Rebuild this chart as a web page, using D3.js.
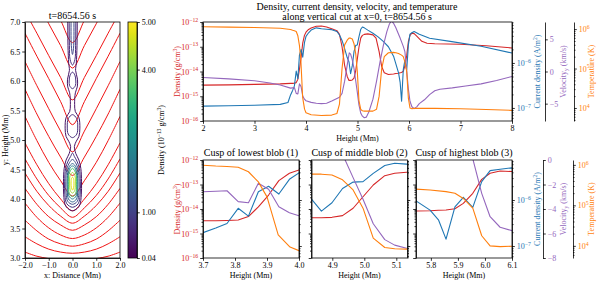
<!DOCTYPE html>
<meta charset="utf-8">
<style>
body { margin: 0; background: #fff; }
svg { font-family: "Liberation Serif", "Times New Roman", serif; }
</style>
<svg width="598" height="282"></svg>
<script src="https://d3js.org/d3.v7.min.js"></script>
<script>

// ---- data ----

// field lines (left panel): heights in Mm at |x| = fieldX, mirrored about x=0
var fieldX = [0, 0.5, 1, 1.5, 2];
var fieldLines = [
  [2.95, 2.96, 2.99, 3.03, 3.10],
  [3.08, 3.10, 3.15, 3.24, 3.36],
  [3.20, 3.24, 3.32, 3.46, 3.64],
  [3.33, 3.39, 3.51, 3.69, 3.93],
  [3.47, 3.56, 3.70, 3.91, 4.18],
  [3.59, 3.71, 3.89, 4.13, 4.44],
  [3.69, 3.85, 4.06, 4.34, 4.68],
  [3.80, 4.00, 4.26, 4.58, 4.95],
  [4.05, 4.31, 4.62, 4.99, 5.40],
  [4.40, 4.71, 5.06, 5.44, 5.86],
  [4.80, 5.15, 5.53, 5.92, 6.33],
  [5.26, 5.65, 6.04, 6.42, 6.81],
  [5.68, 6.06, 6.43, 6.81, 7.18],
  [6.22, 6.60, 6.97, 7.35, 7.72],
  [6.65, 7.03, 7.40, 7.78, 8.15]
];

// density contours: level (1e-13 g/cm3) and profile [height, half width] in Mm
var contourLevels = [0.3, 0.3, 0.7, 0.7, 0.7, 0.7, 1.1, 1.1, 1.6, 2.2, 3.6, 4.3, 4.8];
var contourProfiles = [
  [[3.80,0],[3.84,0.2],[3.9,0.31],[4.07,0.37],[4.29,0.38],[4.52,0.35],[4.66,0.27],[4.77,0.14],[4.89,0.08],[4.98,0.16],[5.06,0.27],[5.2,0.31],[5.38,0.27],[5.48,0.12],[5.6,0.09],[5.8,0.12],[5.9,0.2],[6.03,0.21],[6.18,0.13],[6.3,0.16],[6.6,0.19],[7.1,0.2],[7.4,0.2],[7.5,0]],
  [[7.5,0]],
  [[3.86,0],[3.92,0.24],[4.07,0.32],[4.29,0.33],[4.52,0.29],[4.64,0.19],[4.72,0.08],[4.78,0]],
  [[5.04,0],[5.1,0.18],[5.22,0.22],[5.36,0.18],[5.43,0]],
  [[5.87,0],[5.92,0.12],[6.0,0.14],[6.1,0.1],[6.15,0]],
  [[6.27,0],[6.36,0.1],[6.6,0.13],[7.1,0.14],[7.4,0.14],[7.5,0]],
  [[3.91,0],[3.96,0.2],[4.1,0.27],[4.3,0.28],[4.5,0.24],[4.62,0.12],[4.67,0]],
  [[6.45,0],[6.6,0.05],[7.1,0.06],[7.4,0.06],[7.5,0]],
  [[3.95,0],[4.0,0.17],[4.15,0.22],[4.35,0.22],[4.53,0.16],[4.6,0]],
  [[4.0,0],[4.05,0.15],[4.2,0.19],[4.4,0.18],[4.53,0.1],[4.56,0]],
  [[4.04,0],[4.09,0.13],[4.25,0.17],[4.42,0.15],[4.52,0]],
  [[4.10,0],[4.14,0.09],[4.27,0.12],[4.4,0.1],[4.45,0]],
  [[4.15,0],[4.2,0.05],[4.27,0.06],[4.35,0.04],[4.37,0]]
];

// vertical cut at x=0: [height Mm, log10 value]
var densityCut = [[2.0,-14.55],[2.5,-14.54],[3.0,-14.52],[3.5,-14.5],[3.7,-14.48],[3.74,-14.48],[3.775,-14.47],[3.81,-14.45],[3.842,-14.31],[3.873,-13.91],[3.905,-13.43],[3.937,-12.84],[3.97,-12.54],[4.0,-12.41],[4.05,-12.3],[4.1,-12.24],[4.2,-12.17],[4.3,-12.16],[4.4,-12.2],[4.5,-12.27],[4.6,-12.35],[4.65,-12.5],[4.7,-13.0],[4.75,-13.75],[4.8,-14.2],[4.835,-14.36],[4.866,-14.36],[4.899,-14.34],[4.932,-14.27],[4.965,-13.97],[4.996,-13.5],[5.028,-13.02],[5.064,-12.64],[5.095,-12.54],[5.132,-12.5],[5.2,-12.48],[5.3,-12.52],[5.36,-12.65],[5.42,-13.2],[5.47,-13.8],[5.52,-14.05],[5.6,-14.12],[5.7,-14.1],[5.745,-14.08],[5.797,-14.07],[5.828,-14.05],[5.856,-14.04],[5.889,-13.99],[5.92,-13.77],[5.955,-13.36],[5.988,-12.79],[6.019,-12.54],[6.056,-12.45],[6.1,-12.47],[6.15,-12.57],[6.25,-12.78],[6.35,-12.86],[6.5,-12.88],[7.0,-12.9],[7.5,-12.96],[8.0,-13.05]];
var currentCut = [[2.0,-6.96],[2.5,-6.95],[3.0,-6.94],[3.5,-6.92],[3.65,-6.88],[3.7,-6.71],[3.74,-6.61],[3.775,-6.51],[3.81,-6.18],[3.842,-6.35],[3.873,-5.82],[3.905,-5.70],[3.937,-5.87],[3.97,-5.55],[4.0,-5.41],[4.05,-5.33],[4.1,-5.27],[4.2,-5.22],[4.3,-5.24],[4.4,-5.25],[4.5,-5.26],[4.6,-5.3],[4.65,-5.38],[4.7,-5.5],[4.75,-5.68],[4.8,-5.88],[4.835,-5.98],[4.866,-6.24],[4.899,-6.06],[4.932,-5.75],[4.965,-5.61],[4.996,-5.60],[5.028,-5.42],[5.064,-5.25],[5.095,-5.20],[5.132,-5.22],[5.2,-5.27],[5.3,-5.34],[5.4,-5.42],[5.5,-5.52],[5.6,-5.64],[5.7,-5.85],[5.745,-6.02],[5.797,-6.22],[5.828,-6.43],[5.856,-6.85],[5.889,-6.15],[5.92,-5.94],[5.955,-6.16],[5.988,-5.60],[6.019,-5.36],[6.056,-5.33],[6.1,-5.30],[6.2,-5.36],[6.4,-5.45],[6.8,-5.52],[7.4,-5.63],[8.0,-5.78]];
// velocity in km/s (linear)
var velocityCut = [[2.0,-0.94],[2.5,-1.15],[3.0,-1.45],[3.3,-1.8],[3.5,-2.1],[3.7,-2.59],[3.74,-2.55],[3.775,-2.51],[3.81,-3.40],[3.842,-3.49],[3.873,-1.90],[3.905,-2.39],[3.937,-3.81],[3.97,-4.30],[4.0,-4.55],[4.1,-4.8],[4.2,-4.95],[4.3,-5.0],[4.4,-4.95],[4.5,-4.6],[4.6,-4.2],[4.65,-4.0],[4.7,-3.4],[4.75,-1.5],[4.8,1.0],[4.84,2.9],[4.866,2.7],[4.899,1.8],[4.932,0.47],[4.965,-1.44],[4.996,-3.2],[5.028,-5.2],[5.064,-6.5],[5.095,-6.95],[5.132,-7.2],[5.17,-7.1],[5.22,-6.3],[5.3,-4.3],[5.37,-1.5],[5.44,1.6],[5.5,4.0],[5.57,6.2],[5.62,7.4],[5.66,7.9],[5.7,7.5],[5.745,6.8],[5.797,5.8],[5.828,5.2],[5.856,4.6],[5.889,3.9],[5.92,3.1],[5.955,0.1],[5.988,-2.72],[6.019,-4.63],[6.056,-5.49],[6.1,-5.77],[6.15,-5.5],[6.2,-5.0],[6.3,-4.4],[6.4,-3.6],[6.5,-3.0],[6.6,-2.75],[6.84,-2.55],[7.1,-2.25],[7.4,-1.93],[7.7,-1.4],[8.0,-0.78]];
var temperatureCut = [[2.0,6.06],[2.5,6.05],[3.0,6.04],[3.5,6.02],[3.7,5.99],[3.74,5.97],[3.775,5.96],[3.81,5.94],[3.842,5.83],[3.873,5.58],[3.9,5.21],[3.935,4.27],[3.972,3.97],[4.0,3.88],[4.1,3.83],[4.3,3.81],[4.5,3.82],[4.6,3.86],[4.65,4.1],[4.7,5.0],[4.75,5.6],[4.8,5.72],[4.835,5.77],[4.866,5.77],[4.899,5.75],[4.932,5.63],[4.965,5.38],[4.996,4.93],[5.028,4.19],[5.064,3.96],[5.095,3.93],[5.132,3.92],[5.2,3.92],[5.3,3.92],[5.37,3.97],[5.42,4.3],[5.47,5.0],[5.52,5.3],[5.6,5.4],[5.7,5.41],[5.745,5.40],[5.797,5.38],[5.856,5.34],[5.889,5.30],[5.92,5.17],[5.955,4.93],[5.988,4.25],[6.019,4.00],[6.056,3.98],[6.1,3.99],[6.5,3.99],[7.0,3.98],[7.5,3.96],[8.0,3.94]];

var cbarTicks = [0.04, 1, 4, 5];
var blobTitles = ["Cusp of lowest blob (1)", "Cusp of middle blob (2)", "Cusp of highest blob (3)"];

// ---- drawing ----
var svg = d3.select("svg");
var defs = svg.append("defs");
var cRed = "#d62728", cBlue = "#1f77b4", cPurple = "#9467bd", cOrange = "#ff7f0e";

function clipRect(id, x0, y0, x1, y1) {
  defs.append("clipPath").attr("id", id).append("rect")
      .attr("x", x0).attr("y", y0).attr("width", x1 - x0).attr("height", y1 - y0);
}

// text with super/subscripts: parts are strings or [text, "sup"|"sub"]
function richText(x, y, parts, size, color, rotate, anchor) {
  var t = svg.append("text").attr("font-size", size).attr("fill", color || "#000")
      .attr("text-anchor", anchor || "middle");
  if (rotate) t.attr("transform", "translate(" + x + "," + y + ") rotate(-90)");
  else t.attr("x", x).attr("y", y);
  var off = 0;
  parts.forEach(function(p) {
    var txt = typeof p === "string" ? p : p[0], kind = typeof p === "string" ? "" : p[1];
    var target = kind === "sup" ? -size * 0.42 : kind === "sub" ? size * 0.25 : 0;
    var ts = t.append("tspan").text(txt).attr("dy", target - off);
    if (kind) ts.attr("font-size", size * 0.7);
    off = target;
  });
  return t;
}

function styleAxis(g, color) {
  g.attr("font-family", null).attr("font-size", 8);
  g.selectAll(".domain").attr("stroke", "#000").attr("stroke-width", 0.8);
  g.selectAll(".tick line").attr("stroke", "#000").attr("stroke-width", 0.8);
  g.selectAll(".tick text").attr("fill", color || "#000");
}

function logTicks(scale) {
  var d = scale.domain(), major = [], minor = [];
  for (var e = Math.floor(Math.log10(d[0])); e <= Math.ceil(Math.log10(d[1])); e++) {
    for (var m = 1; m < 10; m++) {
      var v = m * Math.pow(10, e);
      if (v < d[0] * 0.9999 || v > d[1] * 1.0001) continue;
      (m === 1 ? major : minor).push(v);
    }
  }
  return {major: major, minor: minor};
}

function logAxis(x, scale, side, color, labels) {
  var t = logTicks(scale), mk = side === "left" ? d3.axisLeft : d3.axisRight;
  var gm = svg.append("g").attr("transform", "translate(" + x + ",0)")
      .call(mk(scale).tickValues(t.minor).tickSize(1.5).tickSizeOuter(0).tickFormat(""));
  gm.select(".domain").remove();
  styleAxis(gm);
  var g = svg.append("g").attr("transform", "translate(" + x + ",0)")
      .call(mk(scale).tickValues(t.major).tickSize(2.8).tickSizeOuter(0).tickPadding(2)
        .tickFormat(labels ? function(d) { return d; } : ""));
  styleAxis(g, color);
  if (labels) {
    g.selectAll(".tick text").each(function(d) {
      var e = Math.round(Math.log10(d));
      var s = d3.select(this).text("10");
      s.append("tspan").attr("dy", -3.4).attr("font-size", 5.8).text(e < 0 ? "\u2212" + (-e) : String(e));
    });
  }
  return g;
}

// ---- left panel: contours + field lines ----
var L = {x0: 25, x1: 120, y0: 22, y1: 258};
var fx = d3.scaleLinear().domain([-2, 2]).range([L.x0, L.x1]);
var fy = d3.scaleLinear().domain([3, 7]).range([L.y1, L.y0]);
var viridis = d3.scaleSequential(d3.interpolateViridis).domain([0.04, 5]);
clipRect("clipL", L.x0, L.y0, L.x1, L.y1);
var gl = svg.append("g").attr("clip-path", "url(#clipL)");

var fieldPath = d3.line().x(function(d) { return fx(d[0]); }).y(function(d) { return fy(d[1]); })
    .curve(d3.curveCatmullRom);
fieldLines.forEach(function(h) {
  var pts = [];
  for (var i = fieldX.length - 1; i > 0; i--) pts.push([-fieldX[i], h[i]]);
  for (var j = 0; j < fieldX.length; j++) pts.push([fieldX[j], h[j]]);
  gl.append("path").attr("d", fieldPath(pts)).attr("fill", "none")
      .attr("stroke", "#f01414").attr("stroke-width", 1);
});

var contourPath = d3.line().x(function(d) { return fx(d[0]); }).y(function(d) { return fy(d[1]); })
    .curve(d3.curveCatmullRomClosed);
contourProfiles.forEach(function(prof, k) {
  if (prof.length < 3) return;
  var right = prof.map(function(p) { return [p[1], p[0]]; });
  var left = prof.slice(1, -1).reverse().map(function(p) { return [-p[1], p[0]]; });
  gl.append("path").attr("d", contourPath(right.concat(left))).attr("fill", "none")
      .attr("stroke", viridis(contourLevels[k])).attr("stroke-width", 1);
});

svg.append("rect").attr("x", L.x0).attr("y", L.y0).attr("width", L.x1 - L.x0).attr("height", L.y1 - L.y0)
    .attr("fill", "none").attr("stroke", "#000").attr("stroke-width", 0.8);
styleAxis(svg.append("g").attr("transform", "translate(0," + L.y1 + ")")
    .call(d3.axisBottom(fx).tickValues([-2, -1, 0, 1, 2]).tickSize(2.8).tickSizeOuter(0).tickPadding(2)));
styleAxis(svg.append("g").attr("transform", "translate(" + L.x0 + ",0)")
    .call(d3.axisLeft(fy).tickValues(d3.range(3, 7.01, 0.5)).tickFormat(d3.format(".1f"))
      .tickSize(2.8).tickSizeOuter(0).tickPadding(2)));
svg.append("text").attr("x", (L.x0 + L.x1) / 2).attr("y", 19).attr("text-anchor", "middle")
    .attr("font-size", 10).text("t=8654.56 s");
richText((L.x0 + L.x1) / 2, 278, ["x: Distance (Mm)"], 8);
richText(8, (L.y0 + L.y1) / 2, ["y: Height (Mm)"], 8, "#000", true);

// colorbar
var cb = {x0: 128, x1: 137};
var cy = d3.scaleLinear().domain([0.04, 5]).range([L.y1, L.y0]);
var grad = defs.append("linearGradient").attr("id", "vir").attr("x1", 0).attr("y1", 1).attr("x2", 0).attr("y2", 0);
d3.range(0, 1.001, 0.05).forEach(function(t) {
  grad.append("stop").attr("offset", t).attr("stop-color", d3.interpolateViridis(t));
});
svg.append("rect").attr("x", cb.x0).attr("y", L.y0).attr("width", cb.x1 - cb.x0).attr("height", L.y1 - L.y0)
    .attr("fill", "url(#vir)").attr("stroke", "#000").attr("stroke-width", 0.8);
styleAxis(svg.append("g").attr("transform", "translate(" + cb.x1 + ",0)")
    .call(d3.axisRight(cy).tickValues(cbarTicks).tickFormat(d3.format(".2f"))
      .tickSize(2.8).tickSizeOuter(0).tickPadding(2)));
svg.selectAll(".domain").filter(function() { return false; });
richText(164, (L.y0 + L.y1) / 2, ["Density (10", ["\u221213", "sup"], " g/cm", ["3", "sup"], ")"], 8, "#000", true);

// ---- cut panels ----
var panels = [
  {x0: 203, x1: 512, y0: 22, y1: 121, xd: [2, 8], xt: [2, 3, 4, 5, 6, 7, 8], xf: d3.format("d"),
   cur: [-7.29, -5.09], vel: [-7.7, 7.7], velTicks: [-5, 0, 5], temp: [3.67, 6.18]},
  {x0: 203, x1: 299, y0: 160, y1: 258, xd: [3.7, 4.0], xt: [3.7, 3.8, 3.9, 4.0], xf: d3.format(".1f"),
   cur: [-7.26, -5.13], vel: [-8, 0], velTicks: [-8, -6, -4, -2, 0], temp: [3.70, 6.12]},
  {x0: 311.5, x1: 407.5, y0: 160, y1: 258, xd: [4.835, 5.135], xt: [4.9, 5.0, 5.1], xf: d3.format(".1f"),
   cur: [-7.26, -5.13], vel: [-8, 0], velTicks: [-8, -6, -4, -2, 0], temp: [3.70, 6.12]},
  {x0: 416, x1: 512, y0: 160, y1: 258, xd: [5.745, 6.1], xt: [5.8, 5.9, 6.0, 6.1], xf: d3.format(".1f"),
   cur: [-7.26, -5.13], vel: [-8, 0], velTicks: [-8, -6, -4, -2, 0], temp: [3.70, 6.12]}
];

panels.forEach(function(p, i) {
  var x = d3.scaleLinear().domain(p.xd).range([p.x0, p.x1]);
  var yD = d3.scaleLog().domain([1e-16, 1e-12]).range([p.y1, p.y0]);
  var yC = d3.scaleLog().domain([Math.pow(10, p.cur[0]), Math.pow(10, p.cur[1])]).range([p.y1, p.y0]);
  var yV = d3.scaleLinear().domain(p.vel).range([p.y1, p.y0]);
  var yT = d3.scaleLog().domain([Math.pow(10, p.temp[0]), Math.pow(10, p.temp[1])]).range([p.y1, p.y0]);
  var id = "clipP" + i;
  clipRect(id, p.x0, p.y0, p.x1, p.y1);
  var g = svg.append("g").attr("clip-path", "url(#" + id + ")");
  var series = [
    {data: densityCut, y: function(v) { return yD(Math.pow(10, v)); }, c: cRed},
    {data: currentCut, y: function(v) { return yC(Math.pow(10, v)); }, c: cBlue},
    {data: velocityCut, y: function(v) { return yV(v); }, c: cPurple},
    {data: temperatureCut, y: function(v) { return yT(Math.pow(10, v)); }, c: cOrange}
  ];
  series.forEach(function(s) {
    g.append("path")
        .attr("d", d3.line().x(function(d) { return x(d[0]); }).y(function(d) { return s.y(d[1]); })(s.data))
        .attr("fill", "none").attr("stroke", s.c).attr("stroke-width", 1.1).attr("stroke-linejoin", "round");
  });

  svg.append("rect").attr("x", p.x0).attr("y", p.y0).attr("width", p.x1 - p.x0).attr("height", p.y1 - p.y0)
      .attr("fill", "none").attr("stroke", "#000").attr("stroke-width", 0.8);
  var gx = svg.append("g").attr("transform", "translate(0," + p.y1 + ")")
      .call(d3.axisBottom(x).tickValues(p.xt).tickFormat(p.xf).tickSize(2.8).tickSizeOuter(0).tickPadding(2));
  styleAxis(gx);
  gx.select(".domain").remove();

  var isTop = i === 0, isLast = i === panels.length - 1;
  logAxis(p.x0, yD, "left", cRed, isTop || i === 1);
  logAxis(p.x1, yC, "right", cBlue, isTop || isLast);

  var midY = (p.y0 + p.y1) / 2;
  richText((p.x0 + p.x1) / 2, p.y1 + 20, ["Height (Mm)"], 8);
  if (isTop || i === 1) richText(180, midY, ["Density (g/cm", ["3", "sup"], ")"], 8, cRed, true);
  if (isTop || isLast) {
    var vx = isTop ? 545 : 543, tx = isTop ? 574 : 573;
    var gv = svg.append("g").attr("transform", "translate(" + vx + ",0)")
        .call(d3.axisRight(yV).tickValues(p.velTicks).tickFormat(d3.format("d"))
          .tickSize(2.8).tickSizeOuter(0).tickPadding(2));
    styleAxis(gv, cPurple);
    logAxis(tx, yT, "right", cOrange, true);
    richText(540, midY, ["Current density (A/m", ["2", "sup"], ")"], 8, cBlue, true);
    richText(566, midY, ["Velocity", ["y", "sub"], " (km/s)"], 8, cPurple, true);
    richText(594, midY, ["Temperature (K)"], 8, cOrange, true);
  }
  if (!isTop) {
    svg.append("text").attr("x", (p.x0 + p.x1) / 2).attr("y", 156).attr("text-anchor", "middle")
        .attr("font-size", 10).text(blobTitles[i - 1]);
  }
});

svg.append("text").attr("x", 357).attr("y", 9.5).attr("text-anchor", "middle").attr("font-size", 10)
    .text("Density, current density, velocity, and temperature");
svg.append("text").attr("x", 357).attr("y", 19.5).attr("text-anchor", "middle").attr("font-size", 10)
    .text("along vertical cut at x=0, t=8654.56 s");
</script>
